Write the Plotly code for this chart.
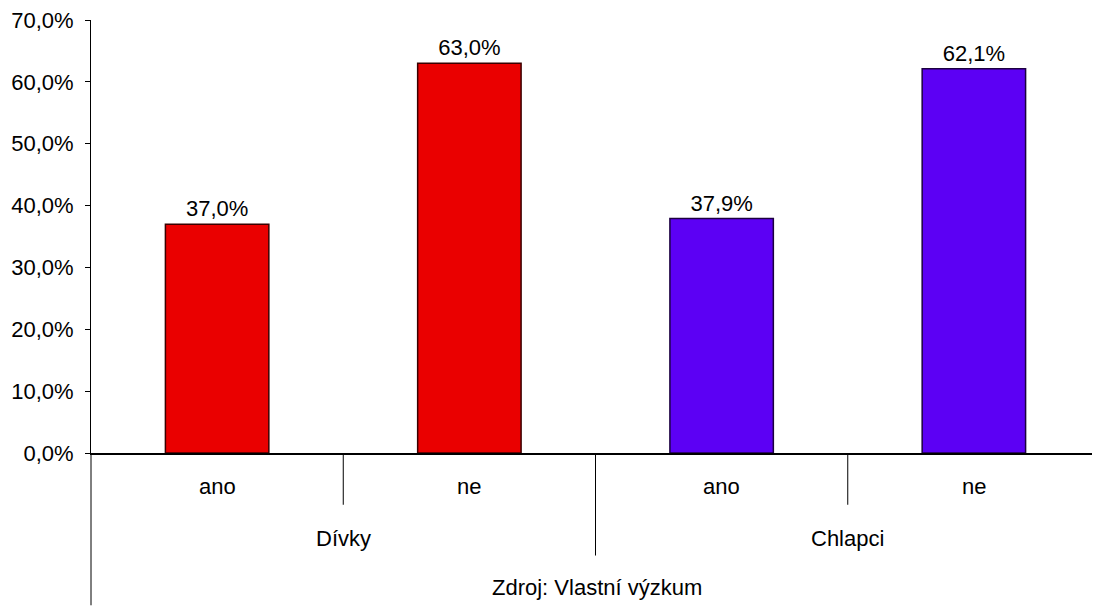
import plotly.graph_objects as go

groups = ["Dívky", "Dívky", "Chlapci", "Chlapci"]
answers = ["ano", "ne", "ano", "ne"]
values = [37.0, 63.0, 37.9, 62.1]
bar_colors = ["#EA0000", "#EA0000", "#5C00F4", "#5C00F4"]
line_colors = ["#3a0000", "#3a0000", "#1c0040", "#1c0040"]
group_names = ["Dívky", "Chlapci"]
y_ticks = [0, 10, 20, 30, 40, 50, 60, 70]
y_tick_labels = ["0,0%", "10,0%", "20,0%", "30,0%", "40,0%", "50,0%", "60,0%", "70,0%"]
source_text = "Zdroj: Vlastní výzkum"

FONT = "Liberation Sans, Arial, sans-serif"
FS = 22
xs = list(range(len(values)))

fig = go.Figure()
fig.add_trace(go.Bar(
    x=xs, y=values,
    marker=dict(color=bar_colors, line=dict(color=line_colors, width=1.5)),
    texttemplate="%{y:.1f}%", textposition="outside",
    textfont=dict(size=FS, color="black", family=FONT),
    cliponaxis=False, hoverinfo="skip",
))

# screen px -> paper (plot area spans screen y 18..453)
def py(p):
    return (453 - p) / 435.0

annotations = []
for i, a in enumerate(answers):
    annotations.append(dict(x=i, xref="x", y=py(501), yref="paper", text=a,
                            showarrow=False, font=dict(size=FS, color="black", family=FONT)))
for gi, g in enumerate(group_names):
    annotations.append(dict(x=gi * 2 + 0.5, xref="x", y=py(553), yref="paper", text=g,
                            showarrow=False, font=dict(size=FS, color="black", family=FONT)))
annotations.append(dict(x=(597 - 91) / (1100 - 91), xref="paper", y=py(603), yref="paper",
                        text=source_text, showarrow=False,
                        font=dict(size=FS, color="black", family=FONT)))

shapes = []
for d in [0.5, 2.5]:
    shapes.append(dict(type="line", xref="x", yref="paper", x0=d, x1=d, y0=0, y1=py(505),
                       line=dict(color="black", width=1)))
shapes.append(dict(type="line", xref="x", yref="paper", x0=1.5, x1=1.5, y0=0, y1=py(556),
                   line=dict(color="black", width=1)))
shapes.append(dict(type="line", xref="paper", yref="paper", x0=0, x1=0, y0=0, y1=py(606),
                   line=dict(color="black", width=1)))

# page body has an 8px margin, so the figure is 8px smaller and shifted
fig.update_layout(
    width=1092, height=598,
    margin=dict(l=83, r=0, t=10, b=153),
    paper_bgcolor="white", plot_bgcolor="white",
    separators=", ",
    showlegend=False,
    bargap=0.59,
    font=dict(family=FONT, size=FS, color="black"),
    xaxis=dict(range=[-0.5, 3.5], showticklabels=False, ticks="", showgrid=False,
               zeroline=False, showline=True, linecolor="black", linewidth=2),
    yaxis=dict(range=[0, 70], tickvals=y_ticks, ticktext=y_tick_labels,
               ticks="outside", ticklen=5, tickcolor="black", ticklabelstandoff=7,
               ticklabeloverflow="allow",
               showgrid=False, zeroline=False, showline=True, linecolor="black", linewidth=1,
               tickfont=dict(size=FS, family=FONT, color="black")),
    annotations=annotations,
    shapes=shapes,
)

fig.write_html("out.html")
